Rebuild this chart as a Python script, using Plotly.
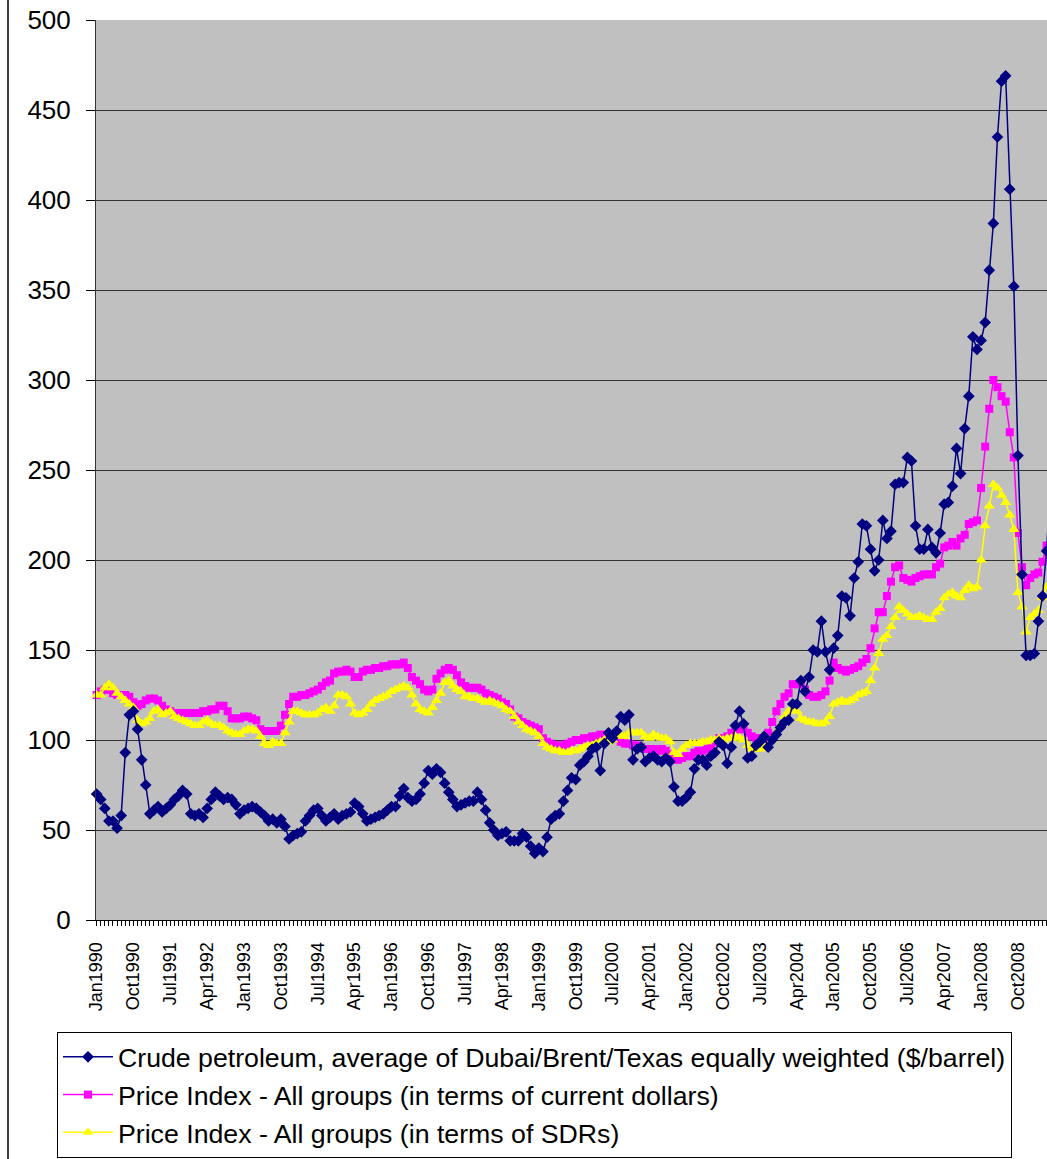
import plotly.graph_objects as go

month_names = ["Jan", "Feb", "Mar", "Apr", "May", "Jun",
               "Jul", "Aug", "Sep", "Oct", "Nov", "Dec"]
years = list(range(1990, 2010))

# Crude petroleum, average of Dubai/Brent/Texas (index), Jan 1990 - Jun 2009
crude = [
    70, 67, 62, 55, 55, 51, 58, 93, 114, 116, 106, 89,      # 1990
    75, 59, 61, 63, 60, 62, 64, 67, 69, 72, 70, 59,         # 1991
    58, 59, 57, 62, 67, 71, 69, 67, 68, 67, 64, 59,         # 1992
    61, 62, 63, 62, 60, 58, 55, 56, 54, 56, 52, 45,         # 1993
    47, 48, 49, 55, 58, 61, 62, 58, 55, 57, 59, 56,         # 1994
    58, 59, 60, 65, 63, 59, 55, 56, 57, 58, 59, 61,         # 1995
    63, 63, 69, 73, 68, 66, 67, 70, 76, 83, 81, 84,         # 1996
    82, 76, 71, 67, 63, 64, 65, 66, 66, 71, 67, 61,         # 1997
    54, 50, 47, 48, 49, 44, 44, 44, 48, 46, 41, 37,         # 1998
    40, 38, 46, 56, 58, 59, 66, 72, 79, 78, 86, 88,         # 1999
    91, 95, 96, 83, 98, 104, 101, 105, 113, 111, 114, 89,   # 2000
    95, 96, 88, 90, 91, 89, 88, 90, 88, 74, 66, 66,         # 2001
    68, 71, 84, 89, 89, 86, 91, 93, 99, 97, 87, 96,         # 2002
    108, 116, 109, 90, 91, 97, 99, 102, 96, 100, 103, 107,  # 2003
    110, 111, 120, 120, 133, 127, 135, 150, 149, 166, 149, 139,  # 2004
    151, 158, 180, 179, 169, 190, 199, 220, 219, 206, 194, 200,  # 2005
    222, 212, 216, 242, 243, 243, 257, 255, 219, 206, 206, 217,  # 2006
    207, 204, 215, 231, 232, 241, 262, 248, 273, 291, 324, 317,  # 2007
    322, 332, 361, 387, 435, 466, 469, 406, 352, 258, 192, 147,  # 2008
    147, 148, 166, 180, 205, 245,                                # 2009
]

# Price Index - All groups (current dollars)
index_usd = [
    125, 127, 128, 128, 126, 125, 125, 125, 124, 121, 119, 120,
    122, 123, 123, 122, 119, 117, 116, 115, 115, 115, 115, 115,
    115, 115, 116, 116, 117, 117, 119, 119, 116, 112, 112, 112,
    113, 113, 112, 111, 106, 105, 105, 105, 105, 108, 114, 120,
    124, 124, 125, 125, 126, 127, 128, 130, 132, 133, 137, 138,
    138, 139, 138, 135, 135, 138, 139, 139, 140, 140, 141, 141,
    142, 142, 142, 143, 140, 135, 133, 131, 128, 127, 128, 134,
    137, 139, 140, 139, 136, 132, 130, 129, 129, 129, 128, 126,
    125, 124, 123, 121, 120, 117, 113, 112, 110, 109, 108, 107,
    106, 101, 99, 98, 97, 97, 97, 98, 99, 100, 100, 101,
    101, 102, 102, 103, 102, 102, 101, 101, 99, 98, 98, 97,
    97, 96, 95, 95, 95, 94, 95, 94, 92, 90, 89, 90,
    91, 91, 93, 94, 94, 95, 96, 99, 101, 101, 102, 104,
    106, 106, 106, 104, 102, 101, 101, 101, 104, 110, 116, 120,
    124, 126, 131, 131, 131, 128, 125, 124, 124, 125, 127, 133,
    143, 140, 139, 138, 139, 140, 141, 143, 145, 151, 162, 171,
    171, 180, 188, 196, 197, 190, 189, 188, 190, 191, 192, 192,
    192, 196, 198, 207, 208, 210, 208, 212, 214, 220, 221, 222,
    240, 263, 284, 300, 296, 291, 288, 271, 257, 215, 196, 186,
    190, 192, 193, 199, 208, 212,
]

# Price Index - All groups (SDRs)
index_sdr = [
    125, 125, 129, 131, 129, 126, 124, 122, 120, 118, 111, 109,
    110, 112, 116, 117, 114, 115, 116, 113, 112, 111, 110, 109,
    108, 108, 110, 111, 109, 108, 108, 107, 105, 104, 103, 103,
    105, 106, 106, 105, 102, 98, 97, 99, 98, 98, 104, 110,
    116, 116, 115, 114, 114, 114, 115, 117, 118, 116, 119, 125,
    125, 124, 120, 115, 114, 115, 117, 120, 122, 123, 124, 125,
    127, 128, 129, 130, 129, 125, 120, 117, 116, 115, 118, 122,
    126, 132, 133, 130, 128, 127, 124, 124, 123, 123, 122, 121,
    122, 121, 120, 119, 117, 116, 113, 110, 108, 106, 105, 104,
    102, 98, 96, 95, 94, 94, 93, 93, 94, 94, 95, 96,
    97, 97, 98, 99, 100, 99, 100, 102, 103, 102, 104, 104,
    104, 104, 102, 101, 103, 102, 101, 101, 99, 93, 92, 95,
    97, 98, 98, 98, 99, 99, 100, 100, 101, 100, 101, 101,
    102, 101, 100, 97, 95, 95, 95, 96, 97, 100, 104, 108,
    113, 116, 118, 116, 112, 111, 110, 110, 109, 109, 110, 113,
    120, 121, 122, 121, 122, 123, 125, 126, 127, 133, 140, 148,
    156, 158, 163, 168, 174, 172, 170, 168, 168, 169, 168, 167,
    167, 171, 173, 179, 181, 182, 180, 179, 183, 186, 184, 185,
    200, 219, 230, 242, 240, 236, 232, 225, 217, 182, 174, 160,
    168, 170, 172, 179, 185, 190,
]

names = [
    "Crude petroleum, average of Dubai/Brent/Texas equally weighted ($/barrel)",
    "Price Index - All groups (in terms of current dollars)",
    "Price Index - All groups (in terms of SDRs)",
]

month_labels = [f"{m}{y}" for y in years for m in month_names][:len(crude)]
x_idx = list(range(len(crude)))
tick_idx = x_idx[::9]
tick_text = [month_labels[i] for i in tick_idx]

FONT = "Liberation Sans, Arial, sans-serif"

fig = go.Figure()
fig.add_trace(go.Scatter(
    x=x_idx, y=index_usd, name=names[1], mode="lines+markers",
    line=dict(color="#FF00FF", width=1.5),
    marker=dict(symbol="square", size=8, color="#FF00FF"),
    cliponaxis=False, legendrank=2, legendgroup="b"))
fig.add_trace(go.Scatter(
    x=x_idx, y=index_sdr, name=names[2], mode="lines+markers",
    line=dict(color="#FFFF00", width=1.5),
    marker=dict(symbol="triangle-up", size=10, color="#FFFF00"),
    cliponaxis=False, legendrank=3, legendgroup="c"))
fig.add_trace(go.Scatter(
    x=x_idx, y=crude, name=names[0], mode="lines+markers",
    line=dict(color="#000080", width=1.5),
    marker=dict(symbol="diamond", size=9, color="#000080"),
    cliponaxis=False, legendrank=1, legendgroup="a"))

W, H = 1047, 1159
L, T, B = 96, 20, 239
pw = W - L
ph = H - T - B

fig.update_layout(
    template="none",
    width=W, height=H,
    margin=dict(l=L, r=0, t=T, b=B, pad=0, autoexpand=False),
    paper_bgcolor="white",
    plot_bgcolor="#C0C0C0",
    font=dict(family=FONT, color="black"),
    showlegend=True,
    hovermode=False,
    legend=dict(
        xref="container", yref="container",
        x=57 / W, xanchor="left",
        y=1 - 1032 / H, yanchor="top",
        bgcolor="white", bordercolor="black", borderwidth=1,
        font=dict(size=26.7, family=FONT, color="black"),
        itemwidth=50, tracegroupgap=10,
        traceorder="normal",
    ),
    xaxis=dict(
        range=[-0.15, 232.1],
        automargin=False,
        tickmode="array", tickvals=tick_idx, ticktext=tick_text,
        tickangle=-90, tickfont=dict(size=18, family=FONT, color="black"),
        ticks="outside", ticklen=5, tickcolor="black",
        minor=dict(dtick=1, ticks="outside", ticklen=5, tickcolor="black"),
        showgrid=False, zeroline=False,
        showline=True, linecolor="black", linewidth=1,
        ticklabelstandoff=9,
    ),
    yaxis=dict(
        range=[0, 500], dtick=50, tick0=0,
        automargin=False,
        tickfont=dict(size=26, family=FONT, color="black"),
        ticks="outside", ticklen=9, tickcolor="black",
        showgrid=True, gridcolor="#333333", gridwidth=1,
        zeroline=False,
        showline=True, linecolor="#333333", linewidth=1,
        ticklabelstandoff=10,
    ),
    shapes=[dict(
        type="line", xref="paper", yref="paper",
        x0=(8 - L) / pw, x1=(8 - L) / pw,
        y0=-B / ph, y1=(H - B) / ph,
        line=dict(color="black", width=1.5),
    )],
)

# Remove the browser's default 8px page margin so the figure fills the window.
fig.write_html(
    "out.html",
    config={"displayModeBar": False, "staticPlot": True},
    post_script="document.body.style.margin='0';document.body.style.padding='0';",
)
